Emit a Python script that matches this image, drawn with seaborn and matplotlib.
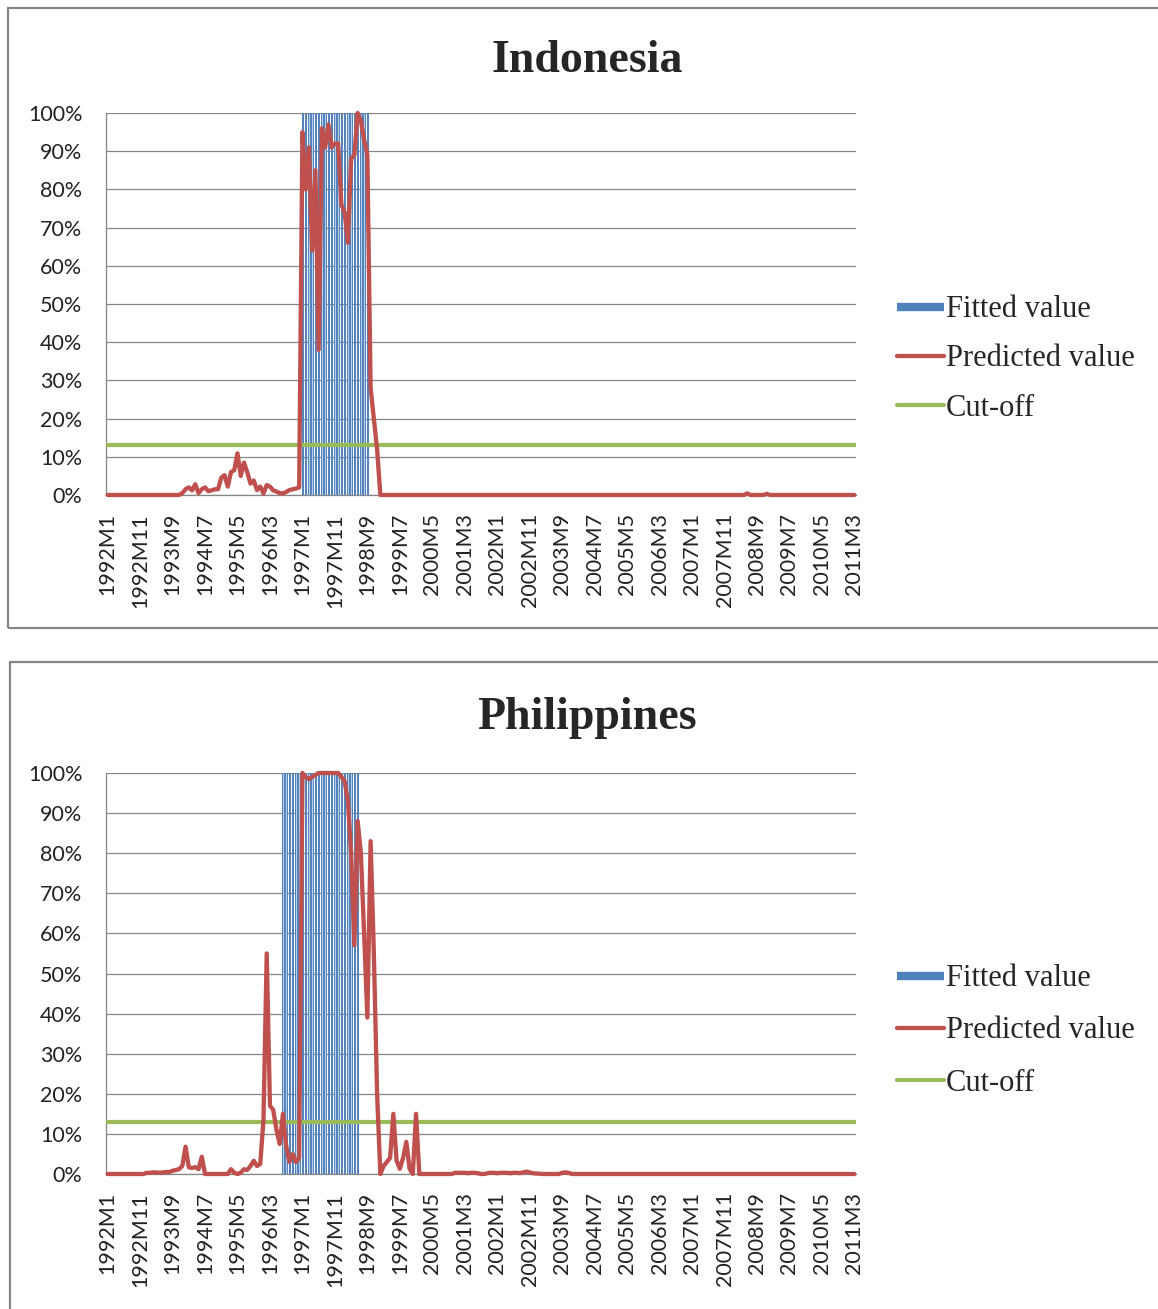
import matplotlib
matplotlib.use('Agg')
import matplotlib.pyplot as plt
import seaborn as sns
import numpy as np
from matplotlib.lines import Line2D
from matplotlib.patches import Rectangle
from matplotlib.ticker import PercentFormatter

# --- DATA ---
# monthly categories 1992M1 .. 2011M3 (231 months)
months = [f"{y}M{m}" for y in range(1992, 2012) for m in range(1, 13)][:231]
month_idx = list(range(len(months)))
tick_every = 10

# Indonesia: fitted (crisis months = 100%) and predicted probability (%)
indo_fitted = [0] * 60 + [1] * 21 + [0] * 150
indo_pred = ([0] * 23
             + [0.5, 1.5, 2.0, 1.2, 2.8, 0.5, 1.5, 2.0, 1.0, 1.2,
                1.5, 1.5, 4.5, 5.2, 2.2, 6.0, 6.5, 10.9, 5.0, 8.5,
                6.0, 3.0, 3.8, 1.3, 2.2, 0.4, 2.6, 2.2, 1.2, 0.9,
                0.5, 0.4, 0.8, 1.3, 1.5, 1.7, 2.0]
             + [95, 80, 91, 64, 85, 38, 96, 91, 97, 91, 92, 92, 76, 74, 66,
                88, 89, 100, 98, 93, 89, 28, 20, 12, 0]
             + [0] * 112 + [0.4] + [0] * 5 + [0.3] + [0] * 27)
indo_cutoff = 0.131

# Philippines
phil_fitted = [0] * 54 + [1] * 24 + [0] * 153
phil_pred = ([0] * 12
             + [0.3, 0.3, 0.4, 0.4, 0.3, 0.4, 0.5, 0.5, 0.8, 1.0]
             + [1.2, 2.0, 6.8, 1.7, 1.5, 1.7, 1.2, 4.3, 0, 0, 0, 0, 0, 0, 0, 0,
                1.2, 0.3, 0, 0.3, 1.2, 1.0, 2.0, 3.3, 2.0, 2.5, 13.5, 55, 17,
                16, 11, 7.5, 15, 7, 3, 5, 3, 4]
             + [100, 99, 98.5, 99, 99.5, 100, 100, 100, 100, 100, 100, 100,
                99, 98, 93, 80, 57, 88, 80, 60, 39, 83, 55, 20, 0, 2, 3, 4, 15,
                3.3, 1.3, 4, 8, 1.3, 0, 15, 0]
             + [0] * 10
             + [0.3, 0.3, 0.3, 0.3, 0.2, 0.3, 0.3, 0.2, 0]
             + [0, 0.2, 0.3, 0.3, 0.2, 0.3, 0.3, 0.3, 0.2, 0.3, 0.3, 0.2, 0.4, 0.6, 0.4, 0.2]
             + [0.1, 0.1, 0, 0, 0, 0, 0, 0]
             + [0.3, 0.4, 0.3, 0]
             + [0] * 87)
phil_cutoff = 0.13

legend_labels = ['Fitted value', 'Predicted value', 'Cut-off']

# --- STYLE ---
BLUE = '#4F81BD'
BLUE_FILL = '#B9CFEA'
RED = '#C0504D'
GREEN = '#9BBB59'
GRID = '#868686'

sns.set_style('white')
plt.rcParams['font.family'] = ['Lato', 'DejaVu Sans']

W, H = 1158, 1309
fig = plt.figure(figsize=(W / 100, H / 100), dpi=100)


def fx(px):
    return px / W


def fy(py):
    return 1 - py / H


# chart area frames (Excel style)
fig.patches.append(Rectangle((fx(8), fy(628)), fx(1200), fy(8) - fy(628),
                             transform=fig.transFigure, fill=False,
                             edgecolor=GRID, lw=1.6))
fig.patches.append(Rectangle((fx(10), fy(1340)), fx(1200), fy(662) - fy(1340),
                             transform=fig.transFigure, fill=False,
                             edgecolor=GRID, lw=1.6))

panels = [
    ('Indonesia', indo_fitted, indo_pred, indo_cutoff, 113, 495, 72, 359, 0.66),
    ('Philippines', phil_fitted, phil_pred, phil_cutoff, 773, 1174, 729, 1031, 0.76),
]

for title, fitted, pred, cutoff, top, bottom, title_y, leg_y, leg_sp in panels:
    ax = fig.add_axes([fx(106), fy(bottom), fx(856) - fx(106), fy(top) - fy(bottom)])
    pred_frac = np.array(pred) / 100.0

    sns.barplot(x=month_idx, y=fitted, ax=ax, color=BLUE_FILL, width=0.45,
                edgecolor=BLUE, linewidth=0.7, saturation=1, zorder=2)
    sns.lineplot(x=month_idx, y=pred_frac, ax=ax, color=RED, lw=3.1,
                 zorder=4, clip_on=False)
    ax.axhline(cutoff, color=GREEN, lw=3.0, zorder=3)

    ax.set_xlim(-0.5, len(months) - 0.5)
    ax.set_ylim(0, 1)
    ax.set_yticks(np.arange(0, 1.01, 0.1))
    ax.yaxis.set_major_formatter(PercentFormatter(1.0, decimals=0))
    ax.set_xticks(month_idx[::tick_every])
    ax.set_xticklabels(months[::tick_every], rotation=90)
    ax.tick_params(axis='both', length=0, labelsize=15.5, colors='#222222')
    ax.tick_params(axis='x', pad=13)
    ax.tick_params(axis='y', pad=17)
    ax.set_xlabel('')
    ax.set_ylabel('')

    ax.set_axisbelow(True)
    ax.yaxis.grid(True, color=GRID, lw=0.9)
    ax.xaxis.grid(False)
    for s in ['top', 'right']:
        ax.spines[s].set_visible(False)
    for s in ['left', 'bottom']:
        ax.spines[s].set_color(GRID)
        ax.spines[s].set_linewidth(0.9)

    fig.text(fx(587), fy(title_y), title, ha='center', va='baseline',
             fontsize=33, fontweight='bold', family='Liberation Serif')

    handles = [Line2D([0], [0], color=BLUE, lw=6, solid_capstyle='butt'),
               Line2D([0], [0], color=RED, lw=3.1),
               Line2D([0], [0], color=GREEN, lw=3.0)]
    ax.legend(handles, legend_labels, loc='center left',
              bbox_to_anchor=(fx(897), fy(leg_y)), bbox_transform=fig.transFigure,
              frameon=False, borderpad=0, borderaxespad=0, handlelength=1.55,
              handletextpad=0.05, labelspacing=leg_sp,
              prop={'family': 'Liberation Serif', 'size': 22})

fig.savefig('out.png', dpi=100)
